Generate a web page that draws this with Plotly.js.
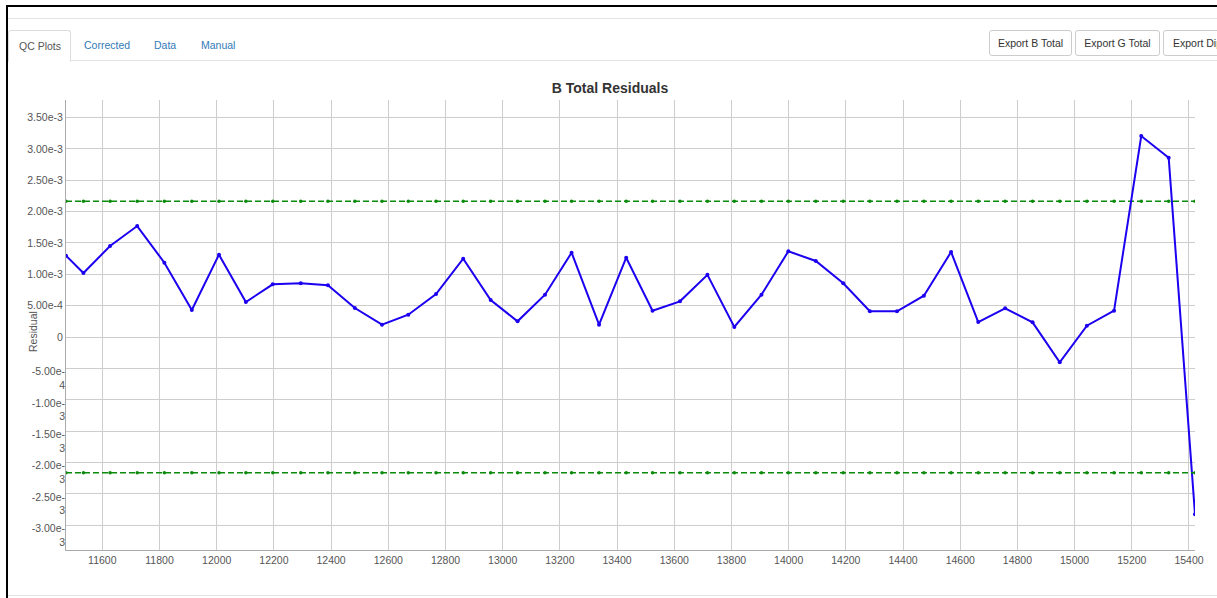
<!DOCTYPE html>
<html>
<head>
<meta charset="utf-8">
<script src="https://cdn.plot.ly/plotly-3.0.1.min.js"></script>
<style>
html,body{margin:0;padding:0;width:1217px;height:598px;overflow:hidden;background:#fff;font-family:"Liberation Sans",Arial,sans-serif;}
#chart{position:absolute;left:0;top:0;width:1217px;height:598px;z-index:1;}
.frame{position:absolute;left:6px;top:5px;width:1300px;height:700px;border-top:2px solid #000;border-left:2px solid #000;pointer-events:none;z-index:5;}
.hline{position:absolute;left:8px;width:1300px;height:1px;background:#e4e4e4;z-index:2;}
.tab{position:absolute;top:30px;height:30px;line-height:30px;font-size:10.5px;color:#337ab7;z-index:3;white-space:nowrap;}
.tab.active{color:#555;border:1px solid #ddd;border-bottom:1px solid #fff;border-radius:3px 3px 0 0;background:#fff;padding:0 10px;left:8px;width:41px;height:30px;}
.btn{position:absolute;top:30px;height:24px;line-height:24px;border:1px solid #ccc;border-radius:3px;font-size:10.5px;color:#333;text-align:center;background:#fff;z-index:3;white-space:nowrap;overflow:hidden;}
</style>
</head>
<body>
<div id="chart"></div>
<div class="frame"></div>
<div class="hline" style="top:18px;"></div>
<div class="hline" style="top:60px;"></div>
<div class="hline" style="top:595px;"></div>
<div class="tab active">QC Plots</div>
<div class="tab" style="left:84px;">Corrected</div>
<div class="tab" style="left:154px;">Data</div>
<div class="tab" style="left:201px;">Manual</div>
<div class="btn" style="left:989px;width:81px;">Export B Total</div>
<div class="btn" style="left:1075px;width:83px;">Export G Total</div>
<div class="btn" style="left:1163px;width:90px;text-align:left;padding-left:9px;">Export Dip Total</div>
<script>
const chartTitle = 'B Total Residuals';
const yAxisLabel = 'Residual';

const xValues = [11473, 11534, 11627, 11722, 11817, 11913, 12008, 12102, 12196, 12294,
  12389, 12483, 12578, 12670, 12767, 12862, 12958, 13052, 13148, 13241,
  13337, 13432, 13524, 13620, 13716, 13810, 13905, 13999, 14095, 14191,
  14284, 14379, 14473, 14568, 14663, 14757, 14853, 14948, 15043, 15138,
  15233, 15329, 15421];

const residuals = [1.297e-3, 1.021e-3, 1.451e-3, 1.770e-3, 1.185e-3, 0.431e-3, 1.313e-3, 0.558e-3, 0.840e-3, 0.857e-3,
  0.825e-3, 0.463e-3, 0.197e-3, 0.356e-3, 0.686e-3, 1.249e-3, 0.590e-3, 0.250e-3, 0.675e-3, 1.345e-3,
  0.197e-3, 1.265e-3, 0.420e-3, 0.569e-3, 0.992e-3, 0.160e-3, 0.675e-3, 1.367e-3, 1.212e-3, 0.857e-3,
  0.410e-3, 0.410e-3, 0.659e-3, 1.356e-3, 0.239e-3, 0.458e-3, 0.234e-3, -0.404e-3, 0.180e-3, 0.420e-3,
  3.206e-3, 2.860e-3, -2.828e-3];

const upperLimit = [2.165e-3, 2.165e-3, 2.165e-3, 2.165e-3, 2.165e-3, 2.165e-3, 2.165e-3, 2.165e-3, 2.165e-3, 2.165e-3,
  2.165e-3, 2.165e-3, 2.165e-3, 2.165e-3, 2.165e-3, 2.165e-3, 2.165e-3, 2.165e-3, 2.165e-3, 2.165e-3,
  2.165e-3, 2.165e-3, 2.165e-3, 2.165e-3, 2.165e-3, 2.165e-3, 2.165e-3, 2.165e-3, 2.165e-3, 2.165e-3,
  2.165e-3, 2.165e-3, 2.165e-3, 2.165e-3, 2.165e-3, 2.165e-3, 2.165e-3, 2.165e-3, 2.165e-3, 2.165e-3,
  2.165e-3, 2.165e-3, 2.165e-3];

const lowerLimit = [-2.165e-3, -2.165e-3, -2.165e-3, -2.165e-3, -2.165e-3, -2.165e-3, -2.165e-3, -2.165e-3, -2.165e-3, -2.165e-3,
  -2.165e-3, -2.165e-3, -2.165e-3, -2.165e-3, -2.165e-3, -2.165e-3, -2.165e-3, -2.165e-3, -2.165e-3, -2.165e-3,
  -2.165e-3, -2.165e-3, -2.165e-3, -2.165e-3, -2.165e-3, -2.165e-3, -2.165e-3, -2.165e-3, -2.165e-3, -2.165e-3,
  -2.165e-3, -2.165e-3, -2.165e-3, -2.165e-3, -2.165e-3, -2.165e-3, -2.165e-3, -2.165e-3, -2.165e-3, -2.165e-3,
  -2.165e-3, -2.165e-3, -2.165e-3];

const xTickVals = [11600, 11800, 12000, 12200, 12400, 12600, 12800, 13000, 13200, 13400,
  13600, 13800, 14000, 14200, 14400, 14600, 14800, 15000, 15200, 15400];
const xTickText = ['11600', '11800', '12000', '12200', '12400', '12600', '12800', '13000', '13200', '13400',
  '13600', '13800', '14000', '14200', '14400', '14600', '14800', '15000', '15200', '15400'];

const posTickVals = [3.5e-3, 3.0e-3, 2.5e-3, 2.0e-3, 1.5e-3, 1.0e-3, 5.0e-4, 0];
const posTickText = ['3.50e-3', '3.00e-3', '2.50e-3', '2.00e-3', '1.50e-3', '1.00e-3', '5.00e-4', '0'];
const negTickVals = [-5.0e-4, -1.0e-3, -1.5e-3, -2.0e-3, -2.5e-3, -3.0e-3];
const negTickText = ['-5.00e-<br>4', '-1.00e-<br>3', '-1.50e-<br>3', '-2.00e-<br>3', '-2.50e-<br>3', '-3.00e-<br>3'];

const FONT = 'Liberation Sans, Arial, sans-serif';
const yRange = [-3.397e-3, 3.780e-3];
const GREEN = '#0a8a0a';
const BLUE = '#1c00f0';

const traces = [
  {x: xValues, y: upperLimit, type: 'scatter', mode: 'lines+markers', yaxis: 'y',
   line: {color: GREEN, width: 1.6, dash: '6px,3px'}, marker: {color: GREEN, size: 3.5}, hoverinfo: 'skip'},
  {x: xValues, y: lowerLimit, type: 'scatter', mode: 'lines+markers', yaxis: 'y2',
   line: {color: GREEN, width: 1.6, dash: '6px,3px'}, marker: {color: GREEN, size: 3.5}, hoverinfo: 'skip'},
  {x: xValues, y: residuals, type: 'scatter', mode: 'lines+markers', name: 'Residual', yaxis: 'y',
   line: {color: BLUE, width: 2}, marker: {color: BLUE, size: 4}}
];

const allTickVals = posTickVals.concat(negTickVals);
const allTickText = posTickText.concat(negTickVals.map(() => ''));

const layout = {
  width: 1217, height: 598,
  margin: {l: 66, r: 22, t: 100, b: 48},
  paper_bgcolor: 'rgba(0,0,0,0)', plot_bgcolor: '#ffffff',
  showlegend: false,
  font: {family: FONT, color: '#555'},
  title: {text: '<b>' + chartTitle + '</b>', font: {family: FONT, size: 14, color: '#333'},
    xref: 'container', x: 610 / 1217, xanchor: 'center', yref: 'container', y: 1 - 88 / 598, yanchor: 'middle'},
  xaxis: {range: [11473, 15421], tickmode: 'array', tickvals: xTickVals, ticktext: xTickText,
    showgrid: true, gridcolor: '#cdcdcd', gridwidth: 1, zeroline: false, showline: true, linecolor: '#aaaaaa', linewidth: 1,
    ticks: '', tickfont: {family: FONT, size: 10.5, color: '#555'}, fixedrange: true},
  yaxis: {range: yRange, tickmode: 'array', tickvals: allTickVals, ticktext: allTickText,
    showgrid: true, gridcolor: '#cdcdcd', gridwidth: 1, zeroline: false, showline: true, linecolor: '#aaaaaa', linewidth: 1,
    ticks: '', tickfont: {family: FONT, size: 10.5, color: '#555'}, fixedrange: true},
  yaxis2: {range: yRange, overlaying: 'y', side: 'left', anchor: 'x', tickmode: 'array', tickvals: negTickVals, ticktext: negTickText,
    showgrid: false, zeroline: false, showline: false, ticks: '', ticklabelshift: 10,
    tickfont: {family: FONT, size: 10.5, color: '#555'}, fixedrange: true},
  annotations: [{text: yAxisLabel, xref: 'paper', yref: 'paper', x: 0, xshift: -33, y: (550 - 332) / 450,
    xanchor: 'center', yanchor: 'middle', textangle: -90, showarrow: false,
    font: {family: FONT, size: 10.5, color: '#555'}}]
};

Plotly.newPlot('chart', traces, layout, {displayModeBar: false, staticPlot: true});
</script>
</body>
</html>
